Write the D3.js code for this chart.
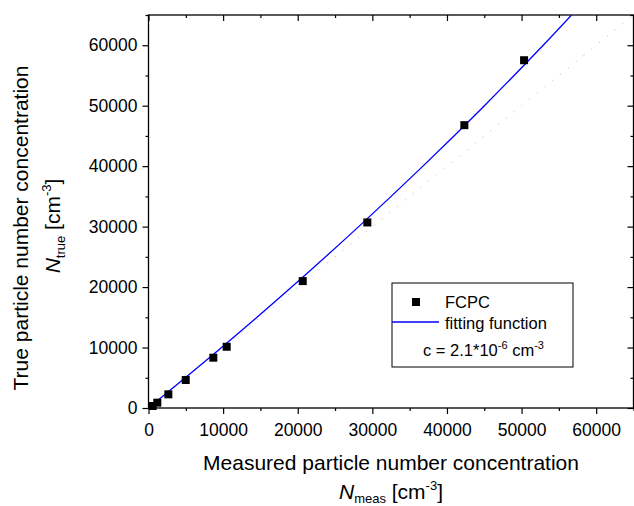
<!DOCTYPE html>
<html>
<head>
<meta charset="utf-8">
<script src="https://cdn.jsdelivr.net/npm/d3@7"></script>
<style>
body { margin: 0; background: #fff; }
text { font-family: "Liberation Sans", Arial, sans-serif; fill: #000; }
.axis path { display: none; }
.axis line { stroke: #000; stroke-width: 1.2; }
</style>
</head>
<body>
<script>
// measured (x) vs true (y) concentrations, cm^-3
var measured = [560, 1180, 2660, 4990, 8690, 10480, 20670, 29330, 42330, 50335]
var trueConc = [330, 880, 2260, 4630, 8320, 10130, 20990, 30690, 46780, 57520]

// fitting function points
var fitMeas = [0, 9790, 19180, 28170, 36780, 45020, 52900, 56700]
var fitTrue = [0, 10000, 20000, 30000, 40000, 50000, 60000, 65000]

var majorTicks = [0, 10000, 20000, 30000, 40000, 50000, 60000]
var minorTicks = [5000, 15000, 25000, 35000, 45000, 55000, 65000]

var width = 634, height = 506
var margin = {top: 15, left: 148.5},
    plotW = 485,
    plotH = 393

var svg = d3.select("body").append("svg")
    .attr("width", width)
    .attr("height", height)

var x = d3.scaleLinear().domain([0, 65000]).range([0, plotW])
var y = d3.scaleLinear().domain([0, 65000]).range([plotH, 0])

var g = svg.append("g")
    .attr("transform", "translate(" + margin.left + "," + margin.top + ")")

g.append("clipPath").attr("id", "clip")
  .append("rect").attr("width", plotW).attr("height", plotH)

// bottom axis, ticks out
g.append("g").attr("class", "axis")
    .attr("transform", "translate(0," + plotH + ")")
    .call(d3.axisBottom(x).tickValues(majorTicks).tickSize(6).tickSizeOuter(0).tickPadding(10).tickFormat(d3.format("d")))
    .call(function(s) { s.selectAll("text").style("font-size", "17.5px").style("font-family", null) })
g.append("g").attr("class", "axis")
    .attr("transform", "translate(0," + plotH + ")")
    .call(d3.axisBottom(x).tickValues(minorTicks).tickSize(3).tickSizeOuter(0).tickFormat(""))

// left axis, ticks out
g.append("g").attr("class", "axis")
    .call(d3.axisLeft(y).tickValues(majorTicks).tickSize(6).tickSizeOuter(0).tickPadding(5).tickFormat(d3.format("d")))
    .call(function(s) { s.selectAll("text").style("font-size", "17.5px").style("font-family", null) })
g.append("g").attr("class", "axis")
    .call(d3.axisLeft(y).tickValues(minorTicks).tickSize(3).tickSizeOuter(0).tickFormat(""))

// top and right mirror axes, ticks in
g.append("g").attr("class", "axis")
    .call(d3.axisBottom(x).tickValues(majorTicks).tickSize(6).tickSizeOuter(0).tickFormat(""))
g.append("g").attr("class", "axis")
    .call(d3.axisBottom(x).tickValues(minorTicks).tickSize(3).tickSizeOuter(0).tickFormat(""))
g.append("g").attr("class", "axis")
    .attr("transform", "translate(" + plotW + ",0)")
    .call(d3.axisLeft(y).tickValues(majorTicks).tickSize(6).tickSizeOuter(0).tickFormat(""))
g.append("g").attr("class", "axis")
    .attr("transform", "translate(" + plotW + ",0)")
    .call(d3.axisLeft(y).tickValues(minorTicks).tickSize(3).tickSizeOuter(0).tickFormat(""))

g.append("rect")
    .attr("width", plotW).attr("height", plotH)
    .attr("fill", "none").attr("stroke", "#000").attr("stroke-width", 1.3)

var plot = g.append("g").attr("clip-path", "url(#clip)")

// 1:1 reference line
plot.append("line")
    .attr("x1", x(0)).attr("y1", y(0))
    .attr("x2", x(65000)).attr("y2", y(65000))
    .attr("stroke", "#b4b4b4").attr("stroke-width", 1)
    .attr("stroke-dasharray", "1,9")

var line = d3.line()
    .x(function(d, i) { return x(fitMeas[i]) })
    .y(function(d, i) { return y(fitTrue[i]) })
    .curve(d3.curveCatmullRom)

plot.append("path")
    .datum(fitTrue)
    .attr("d", line)
    .attr("fill", "none")
    .attr("stroke", "#0000ff")
    .attr("stroke-width", 1.3)

g.selectAll(".pt")
    .data(measured)
  .enter().append("rect")
    .attr("class", "pt")
    .attr("x", function(d) { return x(d) - 4 })
    .attr("y", function(d, i) { return y(trueConc[i]) - 4 })
    .attr("width", 8).attr("height", 8)
    .attr("fill", "#000")

// legend
var leg = svg.append("g").attr("transform", "translate(392,283)")
leg.append("rect")
    .attr("width", 181).attr("height", 84)
    .attr("fill", "#fff").attr("stroke", "#000").attr("stroke-width", 1)
leg.append("rect").attr("x", 20).attr("y", 15).attr("width", 8).attr("height", 8).attr("fill", "#000")
leg.append("text").attr("x", 53).attr("y", 24.5).style("font-size", "16.5px").text("FCPC")
leg.append("line").attr("x1", 0).attr("x2", 47).attr("y1", 39).attr("y2", 39)
    .attr("stroke", "#0000ff").attr("stroke-width", 1.3)
leg.append("text").attr("x", 53).attr("y", 46).style("font-size", "16.5px").text("fitting function")
var ct = leg.append("text").attr("x", 31).attr("y", 73).style("font-size", "16.5px")
ct.append("tspan").text("c = 2.1*10")
ct.append("tspan").attr("dy", -7).style("font-size", "11px").text("-6")
ct.append("tspan").attr("dy", 7).text(" cm")
ct.append("tspan").attr("dy", -7).style("font-size", "11px").text("-3")

// axis titles
svg.append("text")
    .attr("x", margin.left + plotW / 2).attr("y", 470)
    .attr("text-anchor", "middle").style("font-size", "21px")
    .text("Measured particle number concentration")
var xt = svg.append("text")
    .attr("x", margin.left + plotW / 2).attr("y", 499)
    .attr("text-anchor", "middle").style("font-size", "21px")
xt.append("tspan").style("font-style", "italic").text("N")
xt.append("tspan").attr("dy", 4).style("font-size", "13px").text("meas")
xt.append("tspan").attr("dy", -4).text(" [cm")
xt.append("tspan").attr("dy", -9).style("font-size", "13px").text("-3")
xt.append("tspan").attr("dy", 9).text("]")

svg.append("text")
    .attr("transform", "translate(28,228) rotate(-90)")
    .attr("text-anchor", "middle").style("font-size", "21px")
    .text("True particle number concentration")
var yt = svg.append("text")
    .attr("transform", "translate(60,226) rotate(-90)")
    .attr("text-anchor", "middle").style("font-size", "21px")
yt.append("tspan").style("font-style", "italic").text("N")
yt.append("tspan").attr("dy", 5).style("font-size", "13px").text("true")
yt.append("tspan").attr("dy", -5).text(" [cm")
yt.append("tspan").attr("dy", -9).style("font-size", "13px").text("-3")
yt.append("tspan").attr("dy", 9).text("]")
</script>
</body>
</html>
